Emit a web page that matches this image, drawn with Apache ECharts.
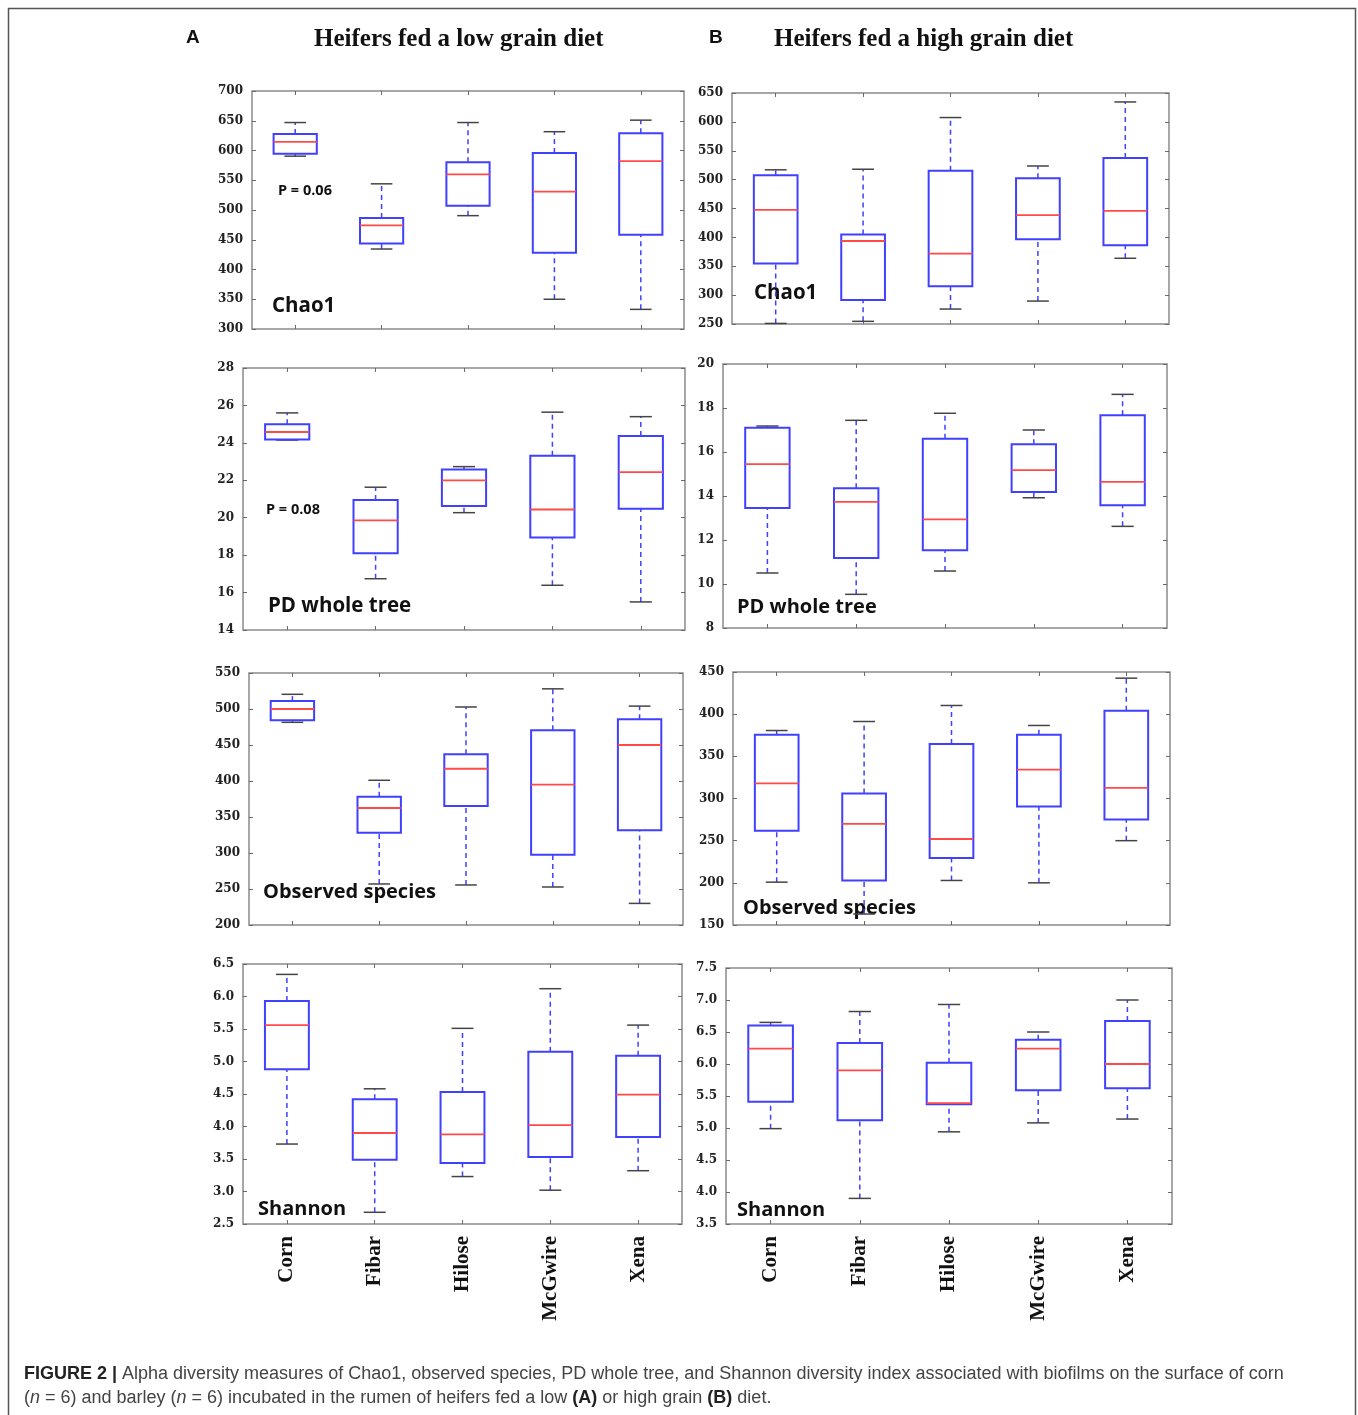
<!DOCTYPE html>
<html>
<head>
<meta charset="utf-8">
<script src="https://cdn.jsdelivr.net/npm/echarts@6/dist/echarts.min.js"></script>
<style>
  html, body { margin: 0; padding: 0; background: #fff; }
  #chart { width: 1358px; height: 1415px; }
</style>
</head>
<body>
<div id="chart"></div>
<script>
// Cultivars on the x axis
const categories = ['Corn', 'Fibar', 'Hilose', 'McGwire', 'Xena'];

// Five-number summaries per cultivar: [min, Q1, median, Q3, max]
const chao1Low = [
  [590.5, 594.4, 614.5, 627.7, 647.0],
  [434.4, 443.9, 474.0, 486.6, 544.0],
  [490.5, 507.3, 560.0, 580.4, 647.0],
  [350.0, 428.2, 531.0, 596.0, 631.6],
  [333.0, 458.4, 582.0, 628.8, 651.0]
];
const chao1High = [
  [251.0, 354.6, 447.7, 507.5, 517.0],
  [254.6, 291.4, 393.7, 405.0, 518.0],
  [275.9, 315.5, 371.8, 515.5, 607.5],
  [289.7, 396.6, 438.5, 502.3, 523.6],
  [363.8, 386.2, 446.0, 537.4, 634.5]
];
const pdLow = [
  [24.15, 24.18, 24.58, 25.0, 25.6],
  [16.74, 18.10, 19.86, 20.94, 21.63],
  [20.27, 20.62, 22.00, 22.57, 22.73],
  [16.39, 18.94, 20.44, 23.31, 25.64],
  [15.50, 20.48, 22.44, 24.37, 25.40]
];
const pdHigh = [
  [10.50, 13.45, 15.45, 17.10, 17.18],
  [9.53, 11.18, 13.73, 14.35, 17.44],
  [10.59, 11.53, 12.94, 16.60, 17.76],
  [13.92, 14.18, 15.18, 16.35, 17.00],
  [12.62, 13.58, 14.64, 17.67, 18.62]
];
const observedLow = [
  [481.5, 484.3, 500.0, 511.0, 520.4],
  [257.0, 328.2, 362.5, 378.2, 401.0],
  [255.6, 365.3, 417.0, 437.0, 502.8],
  [252.8, 297.7, 394.9, 470.4, 528.0],
  [230.0, 331.5, 450.0, 485.6, 504.0]
];
const observedHigh = [
  [200.8, 261.9, 318.0, 375.5, 380.6],
  [163.0, 202.8, 269.8, 306.0, 391.3],
  [202.8, 229.3, 252.0, 364.6, 410.3],
  [200.0, 290.5, 334.2, 375.5, 386.6],
  [250.0, 275.0, 312.6, 404.0, 442.7]
];
const shannonLow = [
  [3.73, 4.88, 5.56, 5.93, 6.34],
  [2.68, 3.49, 3.90, 4.42, 4.58],
  [3.23, 3.44, 3.88, 4.53, 5.51],
  [3.02, 3.53, 4.02, 5.15, 6.12],
  [3.32, 3.84, 4.49, 5.09, 5.56]
];
const shannonHigh = [
  [4.99, 5.41, 6.24, 6.60, 6.65],
  [3.90, 5.12, 5.90, 6.33, 6.82],
  [4.94, 5.37, 5.39, 6.02, 6.93],
  [5.08, 5.59, 6.24, 6.38, 6.50],
  [5.14, 5.62, 6.00, 6.67, 7.00]
];

// Value-axis ticks: [min, max, step]
const chao1LowTicks = [300, 700, 50];
const chao1HighTicks = [250, 650, 50];
const pdLowTicks = [14, 28, 2];
const pdHighTicks = [8, 20, 2];
const observedLowTicks = [200, 550, 50];
const observedHighTicks = [150, 450, 50];
const shannonLowTicks = [2.5, 6.5, 0.5];
const shannonHighTicks = [3.5, 7.5, 0.5];

// Panel layout (pixel boxes of each plot frame)
const panels = [
  { data: chao1Low,     ticks: chao1LowTicks,     box: [252, 91, 432, 238] },
  { data: chao1High,    ticks: chao1HighTicks,    box: [732, 93, 437, 231] },
  { data: pdLow,        ticks: pdLowTicks,        box: [243, 368, 442, 262] },
  { data: pdHigh,       ticks: pdHighTicks,       box: [723, 364, 444, 264] },
  { data: observedLow,  ticks: observedLowTicks,  box: [249, 673, 434, 252] },
  { data: observedHigh, ticks: observedHighTicks, box: [733, 672, 437, 253] },
  { data: shannonLow,   ticks: shannonLowTicks,   box: [243, 964, 439, 260], bottom: true, decimals: 1 },
  { data: shannonHigh,  ticks: shannonHighTicks,  box: [726, 968, 446, 256], bottom: true, decimals: 1 }
];

const BLUE = '#4040ff';
const RED = '#ff4a4a';
const FRAME = '#8a8a8a';
const TICK = '#6a6a6a';

function renderBox(params, api) {
  const i = api.value(0);
  const pt = k => api.coord([i, api.value(k)]);
  const lo = pt(1), q1 = pt(2), md = pt(3), q3 = pt(4), hi = pt(5);
  const band = api.size([1, 0])[0];
  const bw = band * 0.5;
  const cw = bw * 0.5;
  const cx = lo[0];
  const dash = { stroke: BLUE, lineWidth: 1.5, lineDash: [5, 4] };
  const cap = { stroke: '#444', lineWidth: 1.5 };
  return {
    type: 'group',
    children: [
      { type: 'line', shape: { x1: cx, y1: q3[1], x2: cx, y2: hi[1] }, style: dash },
      { type: 'line', shape: { x1: cx, y1: lo[1], x2: cx, y2: q1[1] }, style: dash },
      { type: 'line', shape: { x1: cx - cw / 2, y1: hi[1], x2: cx + cw / 2, y2: hi[1] }, style: cap },
      { type: 'line', shape: { x1: cx - cw / 2, y1: lo[1], x2: cx + cw / 2, y2: lo[1] }, style: cap },
      { type: 'rect', shape: { x: cx - bw / 2, y: q3[1], width: bw, height: q1[1] - q3[1] },
        style: { fill: 'none', stroke: BLUE, lineWidth: 2 } },
      { type: 'line', shape: { x1: cx - bw / 2, y1: md[1], x2: cx + bw / 2, y2: md[1] },
        style: { stroke: RED, lineWidth: 1.8 } }
    ]
  };
}

const grid = [], xAxis = [], yAxis = [], series = [];
panels.forEach((p, g) => {
  const [left, top, width, height] = p.box;
  grid.push({ left, top, width, height, show: true, borderColor: FRAME, borderWidth: 1.5,
              backgroundColor: 'transparent', containLabel: false });
  const tickStyle = { show: true, inside: true, alignWithLabel: true, length: 4,
                      lineStyle: { color: TICK, width: 1 } };
  ['bottom', 'top'].forEach((pos, k) => {
    xAxis.push({
      type: 'category', data: categories, gridIndex: g, position: pos, boundaryGap: true,
      axisLine: { show: false }, axisTick: tickStyle, splitLine: { show: false },
      axisLabel: (p.bottom && k === 0) ? {
        show: true, rotate: 90, margin: 12, interval: 0,
        fontFamily: 'Liberation Serif', fontWeight: 'bold', fontSize: 21, color: '#111'
      } : { show: false }
    });
  });
  const [min, max, step] = p.ticks;
  ['left', 'right'].forEach((pos, k) => {
    yAxis.push({
      type: 'value', gridIndex: g, position: pos, min, max, interval: step,
      axisLine: { show: false },
      axisTick: { show: true, inside: true, length: 4, lineStyle: { color: TICK, width: 1 } },
      splitLine: { show: false },
      axisLabel: k === 0 ? {
        show: true, margin: 9, fontFamily: 'DejaVu Serif', fontWeight: 'bold', fontSize: 12, color: '#222',
        formatter: v => p.decimals ? v.toFixed(p.decimals) : String(v)
      } : { show: false }
    });
  });
  series.push({
    type: 'custom', xAxisIndex: 2 * g, yAxisIndex: 2 * g, silent: true,
    renderItem: renderBox,
    encode: { x: 0, y: [1, 2, 3, 4, 5] },
    data: p.data.map((d, i) => [i].concat(d))
  });
});

// Panel annotations: text, left x, centre y, font size
const notes = [
  ['P = 0.06', 278, 191, 14.5], ['Chao1', 272, 306, 20.5],
  ['Chao1', 754, 293, 20.5],
  ['P = 0.08', 266, 510, 14.5], ['PD whole tree', 268, 606, 20.5],
  ['PD whole tree', 737, 607, 20],
  ['Observed species', 263, 892, 20],
  ['Observed species', 743, 908, 20],
  ['Shannon', 258, 1209, 20],
  ['Shannon', 737, 1210, 20]
];

const graphic = [
  { type: 'rect', silent: true, shape: { x: 8.5, y: 8.5, width: 1347, height: 1430 },
    style: { fill: 'none', stroke: '#555', lineWidth: 1.5 } },
  { type: 'text', x: 186, y: 38, style: { text: 'A', font: 'bold 19px "Liberation Sans"', fill: '#111', verticalAlign: 'middle' } },
  { type: 'text', x: 314, y: 40, style: { text: 'Heifers fed a low grain diet', font: 'bold 25px "Liberation Serif"', fill: '#111', verticalAlign: 'middle' } },
  { type: 'text', x: 709, y: 38, style: { text: 'B', font: 'bold 19px "Liberation Sans"', fill: '#111', verticalAlign: 'middle' } },
  { type: 'text', x: 774, y: 40, style: { text: 'Heifers fed a high grain diet', font: 'bold 25px "Liberation Serif"', fill: '#111', verticalAlign: 'middle' } },
  {
    type: 'text', x: 24, y: 1362,
    style: {
      text: '{b|FIGURE 2 |} Alpha diversity measures of Chao1, observed species, PD whole tree, and Shannon diversity index associated with biofilms on the surface of corn\n' +
            '({i|n} = 6) and barley ({i|n} = 6) incubated in the rumen of heifers fed a low {b|(A)} or high grain {b|(B)} diet.',
      font: '18px "Liberation Sans"', fill: '#444', lineHeight: 24,
      rich: {
        b: { fontFamily: 'Liberation Sans', fontWeight: 'bold', fontSize: 18, fill: '#222', lineHeight: 24 },
        i: { fontFamily: 'Liberation Sans', fontStyle: 'italic', fontSize: 18, fill: '#444', lineHeight: 24 }
      }
    }
  }
];
notes.forEach(([t, x, y, s]) => {
  graphic.push({ type: 'text', x, y, silent: true,
    style: { text: t, font: 'bold ' + s + 'px "Open Sans"', fill: '#111', verticalAlign: 'middle' } });
});

const chart = echarts.init(document.getElementById('chart'), null, { renderer: 'canvas' });
chart.setOption({
  backgroundColor: '#fff',
  animation: false,
  grid, xAxis, yAxis, series, graphic
});
</script>
</body>
</html>
